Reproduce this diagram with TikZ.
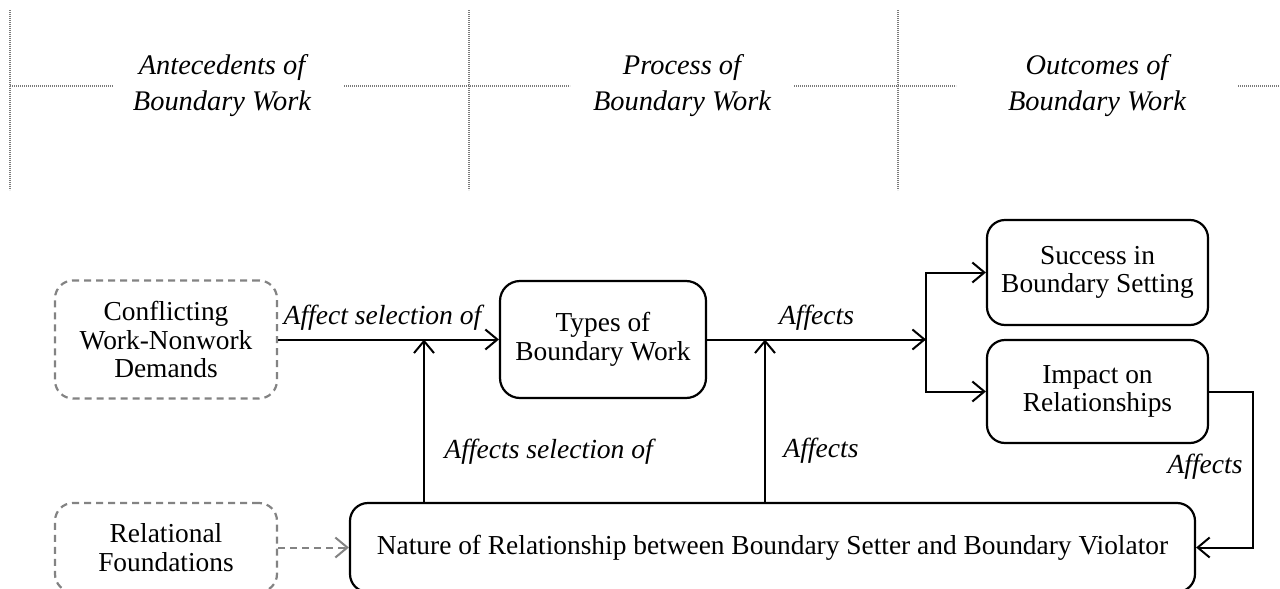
\documentclass[tikz,border=0pt]{standalone}
\usepackage{fontspec}
\setmainfont{Liberation Serif}
\usetikzlibrary{arrows.meta}
\definecolor{dgray}{HTML}{838383}
\definecolor{hgray}{HTML}{7A7A7A}
\begin{document}
\begin{tikzpicture}[x=0.5pt,y=-0.5pt,
  every node/.style={font=\fontsize{13.7}{14.2}\selectfont},
  box/.style={draw, line width=1.1pt, rounded corners=9pt, align=center, inner sep=0pt},
  dbox/.style={draw=dgray, line width=1.1pt, dash pattern=on 3.5pt off 2.5pt, rounded corners=9pt, align=center, inner sep=0pt},
  arr/.style={line width=1pt, -{Straight Barb[length=6pt,width=10pt]}},
  darr/.style={draw=dgray, line width=1pt, dash pattern=on 3.5pt off 2.5pt, -{Straight Barb[length=6pt,width=10pt]}},
  hline/.style={draw=hgray, line width=1.2pt, dash pattern=on 0.6pt off 0.4pt},
  lab/.style={font=\fontsize{13.8}{14.6}\selectfont\itshape, inner sep=0pt},
  head/.style={font=\fontsize{14.2}{18}\selectfont\itshape, align=center, inner sep=0pt}]
\useasboundingbox (0,0) rectangle (1280,589);
\fill[white] (0,0) rectangle (1280,589);

% ---- header ----
\draw[hline] (10,10) -- (10,190);
\draw[hline] (469,10) -- (469,190);
\draw[hline] (898,10) -- (898,190);
\draw[hline] (10,86) -- (113,86);
\draw[hline] (344,86) -- (570,86);
\draw[hline] (794,86) -- (956,86);
\draw[hline] (1238,86) -- (1282,86);
\node[head] (h1) at (222,86) {Antecedents of\\Boundary Work};
\node[head] (h2) at (682,86) {Process of\\Boundary Work};
\node[head] (h3) at (1097,86) {Outcomes of\\Boundary Work};

% ---- boxes ----
\node[dbox, minimum width=111pt, minimum height=59pt] (conf) at (166,339.5) {Conflicting\\Work-Nonwork\\Demands};
\node[box, rounded corners=10pt, minimum width=103pt, minimum height=58.5pt] (types) at (603,339.5) {Types of\\Boundary Work};
\node[box, minimum width=110.5pt, minimum height=52.5pt] (succ) at (1097.5,272.5) {Success in\\Boundary Setting};
\node[box, minimum width=110.5pt, minimum height=51.5pt] (imp) at (1097.5,391.5) {Impact on\\Relationships};
\node[box, minimum width=422.5pt, minimum height=44.5pt] (nat) at (772.5,547.5) {Nature of Relationship between Boundary Setter and Boundary Violator};
\node[dbox, minimum width=111pt, minimum height=44.5pt] (rel) at (166,547.5) {Relational\\Foundations};

% ---- junctions ----
\coordinate (j1) at (424,339.5);
\coordinate (j2) at (765,339.5);
\coordinate (fork) at (926,339.5);
\coordinate (rc) at (1253,391.5);

% ---- connectors ----
\draw[arr] (conf.east) -- node[lab, midway, above=11pt, anchor=center, xshift=-3pt] {Affect selection of} (types.west);
\draw[arr] (j1 |- nat.north) -- (j1);
\draw[arr] (types.east) -- node[lab, midway, above=11pt, anchor=center] {Affects} (fork);
\draw[arr] (j2 |- nat.north) -- (j2);
\draw[arr] (fork) |- (succ.west);
\draw[arr] (fork) |- (imp.west);
\draw[arr] (imp.east) -- (rc) |- (nat.east);
\draw[darr] (rel.east) -- (nat.west);

% ---- labels ----
\node[lab, anchor=west] (l1) at (444,452) {Affects selection of};
\node[lab, anchor=west] (l2) at (783,451) {Affects};
\node[lab, anchor=east] (l3) at (1243,467) {Affects};
\end{tikzpicture}
\end{document}
